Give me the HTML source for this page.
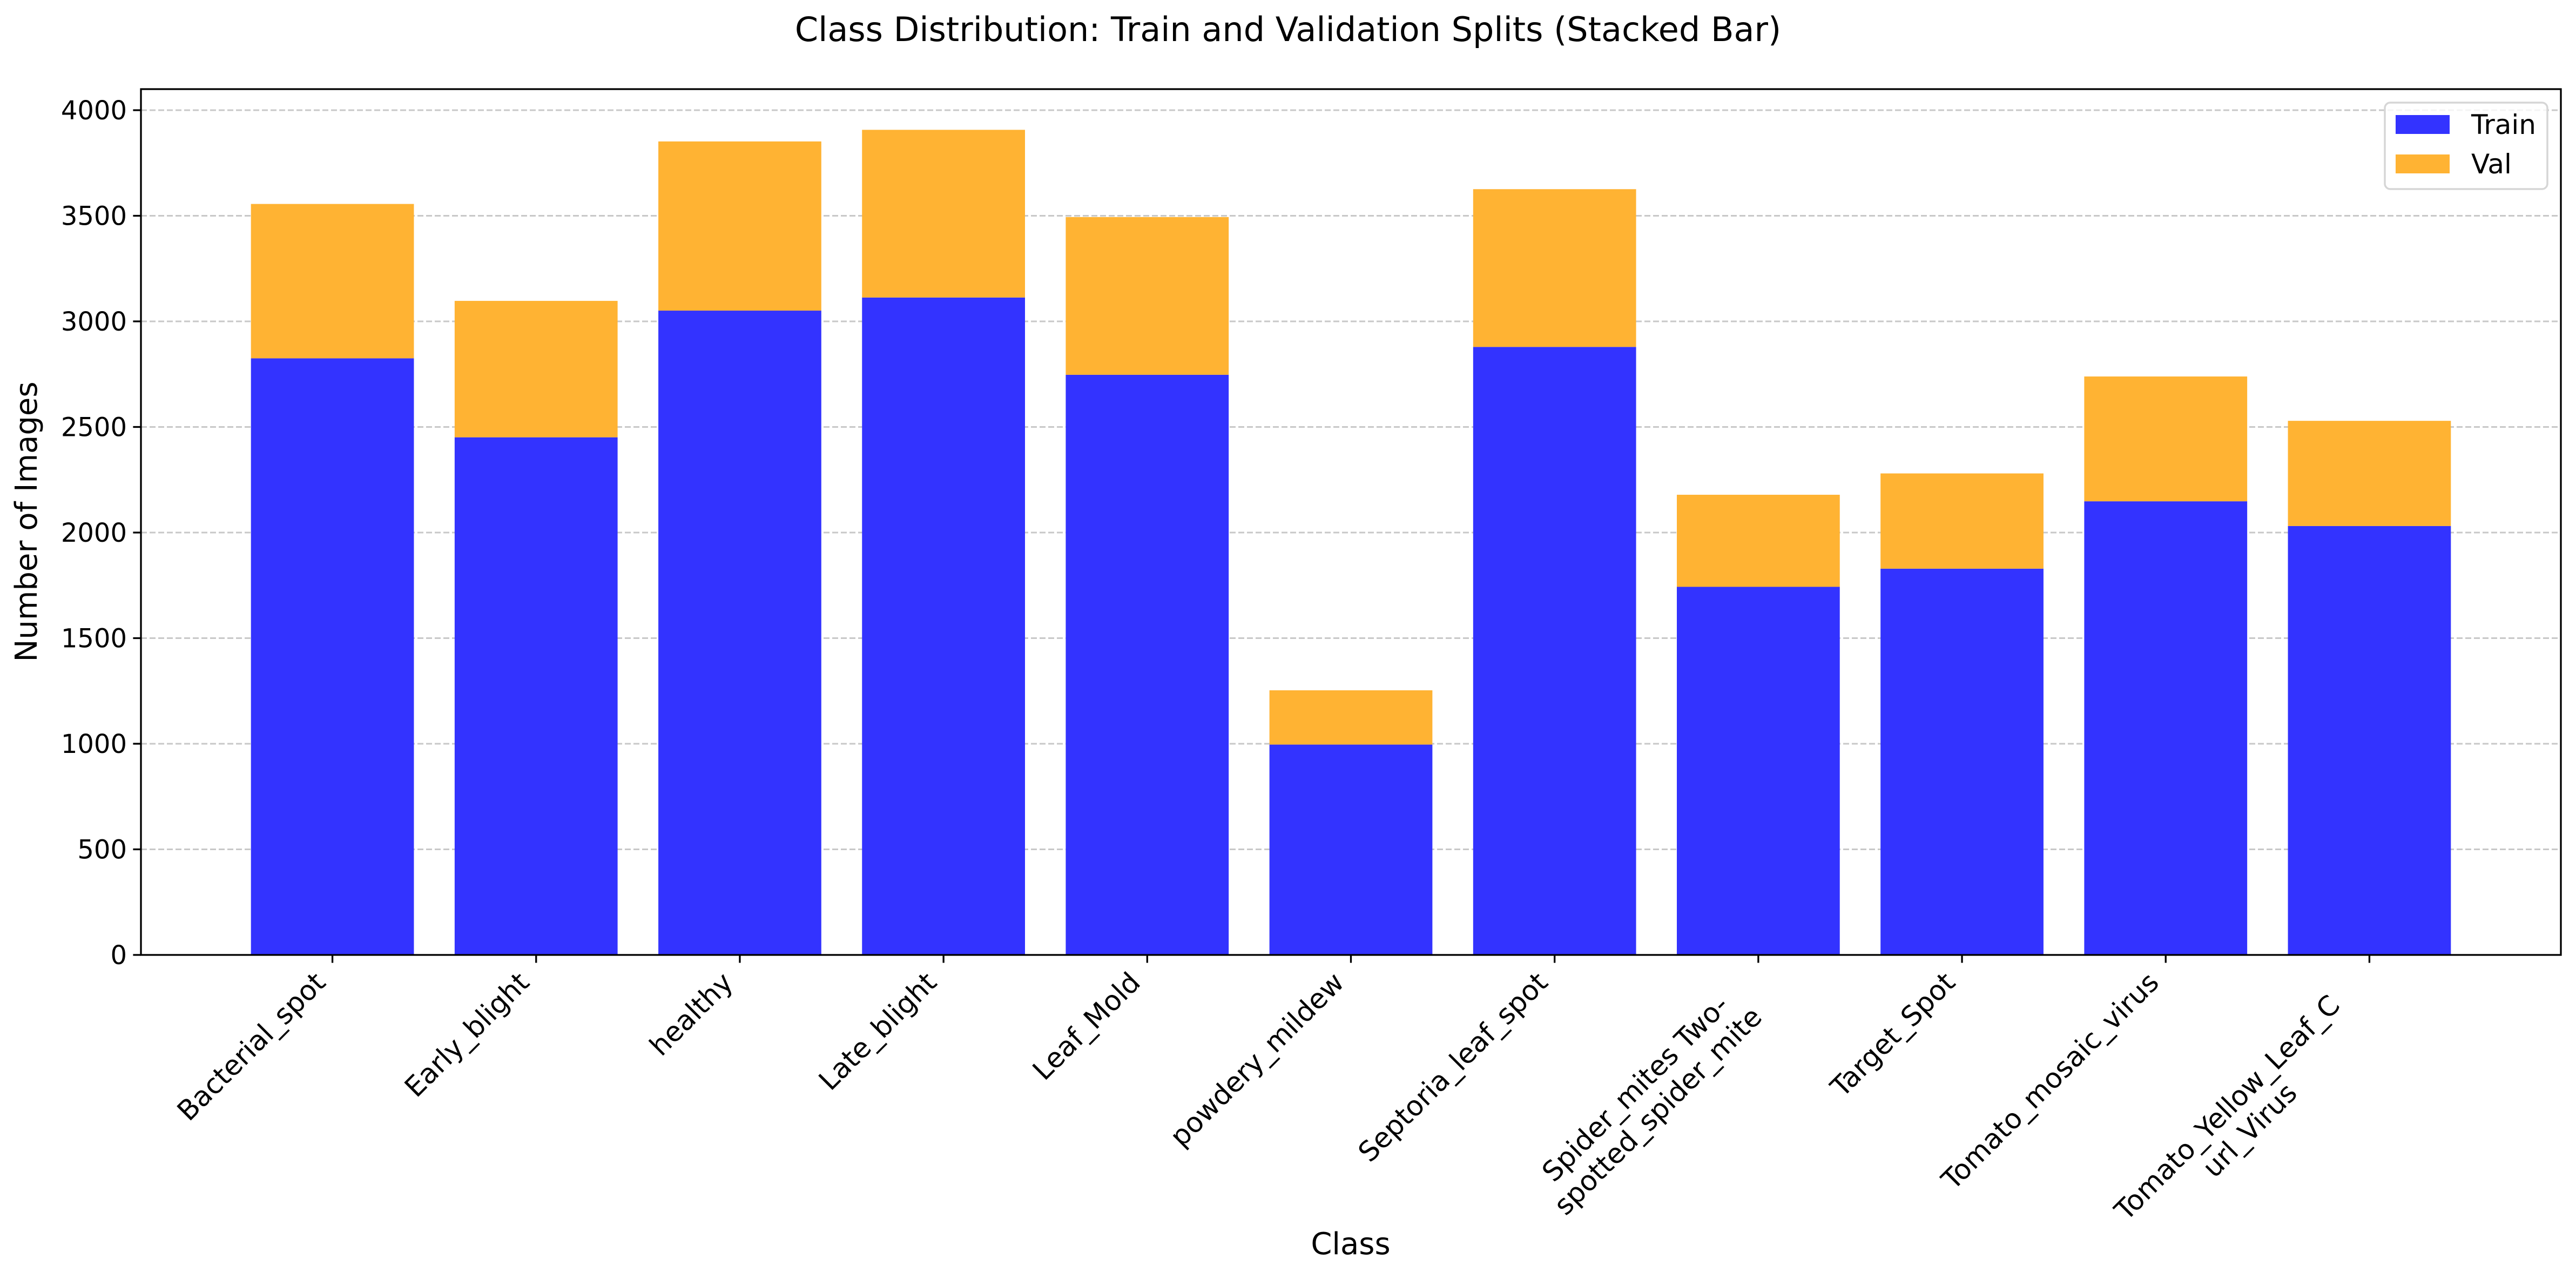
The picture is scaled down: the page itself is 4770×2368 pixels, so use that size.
<!DOCTYPE html>
<html><head><meta charset="utf-8"><style>
html,body{margin:0;padding:0;background:#fff;}
svg{display:block;font-family:"DejaVu Sans","Liberation Sans",sans-serif;}
</style></head><body>
<svg id="chart" width="4770" height="2368" viewBox="0 0 4770 2368" xmlns="http://www.w3.org/2000/svg">
<rect width="4770" height="2368" fill="#fff"/>
<text x="2385" y="76" font-size="62" text-anchor="middle">Class Distribution: Train and Validation Splits (Stacked Bar)</text>
<g id="grid"></g>
<g id="bars"></g>
<g id="axes"></g>
<text transform="translate(68,966) rotate(-90)" font-size="56" text-anchor="middle">Number of Images</text>
<text x="2501" y="2322" font-size="56" text-anchor="middle">Class</text>
<g>
<rect x="4416" y="190" width="301" height="160" rx="10" fill="#fff" fill-opacity="0.8" stroke="#d6d6d6" stroke-width="3.5"/>
<rect x="4436" y="213" width="100" height="35" fill="#3333ff"/>
<text x="4576" y="248" font-size="50">Train</text>
<rect x="4436" y="286" width="100" height="35" fill="#ffb333"/>
<text x="4576" y="321" font-size="50">Val</text>
</g>
</svg>
<script>
const categories = ["Bacterial_spot","Early_blight","healthy","Late_blight","Leaf_Mold","powdery_mildew","Septoria_leaf_spot","Spider_mites Two-\nspotted_spider_mite","Target_Spot","Tomato_mosaic_virus","Tomato_Yellow_Leaf_C\nurl_Virus"];
const trainValues = [2825,2451,3051,3113,2747,996,2879,1743,1829,2148,2031];
const valValues = [731,646,801,794,747,257,747,436,451,591,498];
const yTicks = [0,500,1000,1500,2000,2500,3000,3500,4000];

const NS="http://www.w3.org/2000/svg";
const L=261,R=4742,T=165,B=1768;
const xMin=-0.94,xMax=categories.length-1+0.94;
const unitPx=(B-204)/4000;
function xs(i){return L+(i-xMin)/(xMax-xMin)*(R-L);}
function ys(v){return B-v*unitPx;}
const bw=0.8*(R-L)/(xMax-xMin);
function mk(tag,attrs,parent){const e=document.createElementNS(NS,tag);for(const k in attrs)e.setAttribute(k,attrs[k]);parent.appendChild(e);return e;}
const grid=document.getElementById('grid'),bars=document.getElementById('bars'),axes=document.getElementById('axes');
yTicks.forEach(v=>{
  const g=mk('line',{x1:L,x2:R,y1:ys(v),y2:ys(v),stroke:'#c8c8c8','stroke-width':3,'stroke-dasharray':'11,5'},grid);
  
  
});
categories.forEach((c,i)=>{
  const cx=xs(i);
  const r1=mk('rect',{x:cx-bw/2,y:ys(trainValues[i]),width:bw,height:ys(0)-ys(trainValues[i]),fill:'#3333ff'},bars);
  
  
  const tot=trainValues[i]+valValues[i];
  const r2=mk('rect',{x:cx-bw/2,y:ys(tot),width:bw,height:ys(trainValues[i])-ys(tot),fill:'#ffb333'},bars);
  
  
});
const frame=mk('rect',{x:L,y:T,width:R-L,height:B-T,fill:'none',stroke:'#000','stroke-width':3.3},axes);


yTicks.forEach(v=>{
  const t=mk('line',{x1:L-14.6,x2:L,y1:ys(v),y2:ys(v),stroke:'#000','stroke-width':3.3},axes);
  
  
  const tx=mk('text',{x:L-26,y:ys(v)+17,'font-size':48,'text-anchor':'end'},axes);
  tx.textContent=String(v);
  
  
});
categories.forEach((c,i)=>{
  const cx=xs(i);
  const t=mk('line',{x1:cx,x2:cx,y1:B,y2:B+14.6,stroke:'#000','stroke-width':3.3},axes);
  
  
  const lines=c.split('\n');
  const g=mk('g',{transform:`translate(${cx-24},${B+40}) rotate(-45)`},axes);
  
  
  const t1=mk('text',{x:0,y:20,'font-size':51,'text-anchor':'end'},g);
  t1.textContent=lines[0];
  if(lines.length>1){
    const w=t1.getComputedTextLength();
    const t2=mk('text',{x:-w/2,y:20+59,'font-size':51,'text-anchor':'middle'},g);
    t2.textContent=lines[1];
    g.setAttribute('transform',`translate(${cx-24-42},${B+40+42}) rotate(-45)`);
  }
});
</script>
</body></html>
